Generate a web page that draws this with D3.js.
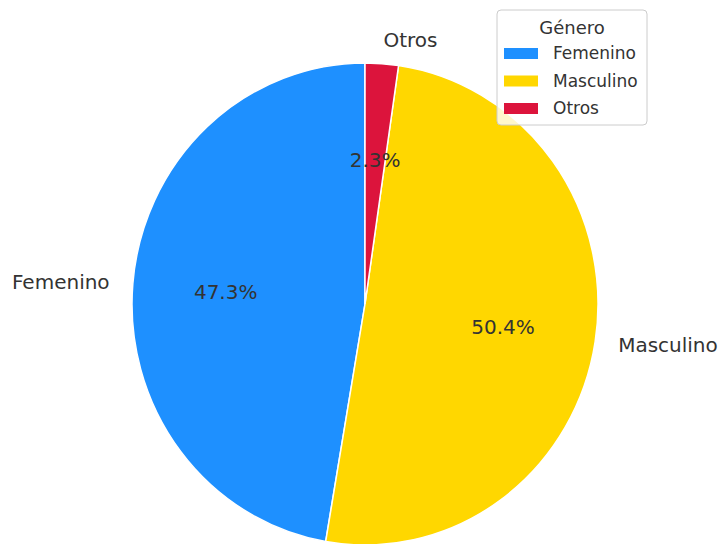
<!DOCTYPE html>
<html>
<head>
<meta charset="utf-8">
<script src="https://cdn.jsdelivr.net/npm/d3@7"></script>
<style>
  html, body { margin: 0; padding: 0; background: #fff; }
  svg { display: block; font-family: "DejaVu Sans", sans-serif; }
</style>
</head>
<body>
<svg id="chart" width="722" height="544"></svg>
<script>
// Gender distribution
const categories = ["Femenino", "Masculino", "Otros"];
const values = [47.3, 50.4, 2.3];
const colors = ["#1E90FF", "#FFD700", "#DC143C"];
const legendTitle = "Género";

const W = 722, H = 544;
const cx = 365, cy = 304;
const rx = 233, ry = 241;
const textColor = "#333333";

const svg = d3.select("#chart");

// Wedges run counter-clockwise starting from 12 o'clock
const total = d3.sum(values);
const angle = d3.scaleLinear().domain([0, total]).range([0, -2 * Math.PI]);
let acc = 0;
const slices = values.map((v, i) => {
  const a0 = angle(acc);
  acc += v;
  const a1 = angle(acc);
  return { i, v, startAngle: a1, endAngle: a0, mid: (a0 + a1) / 2 };
});

const arc = d3.arc().innerRadius(0).outerRadius(rx);

const pie = svg.append("g")
  .attr("transform", `translate(${cx},${cy}) scale(1,${ry / rx})`);

pie.selectAll("path")
  .data(slices)
  .join("path")
  .attr("d", d => arc(d))
  .attr("fill", d => colors[d.i])
  .attr("stroke", "#ffffff")
  .attr("stroke-width", 1.5)
  .attr("vector-effect", "non-scaling-stroke");

// position on the ellipse at a fraction of the radius
function pos(a, f) {
  return [cx + f * rx * Math.sin(a), cy - f * ry * Math.cos(a)];
}

const fmt = d3.format(".1f");

// percentage labels
svg.selectAll("text.pct")
  .data(slices)
  .join("text")
  .attr("class", "pct")
  .attr("x", d => pos(d.mid, 0.6)[0])
  .attr("y", d => pos(d.mid, 0.6)[1])
  .attr("text-anchor", "middle")
  .attr("dominant-baseline", "central")
  .attr("font-size", 20)
  .attr("fill", textColor)
  .text(d => fmt(d.v) + "%");

// category labels outside the pie
svg.selectAll("text.cat")
  .data(slices)
  .join("text")
  .attr("class", "cat")
  .attr("x", d => pos(d.mid, 1.1)[0])
  .attr("y", d => pos(d.mid, 1.1)[1])
  .attr("text-anchor", d => Math.sin(d.mid) > 0 ? "start" : "end")
  .attr("dominant-baseline", "central")
  .attr("font-size", 20)
  .attr("fill", textColor)
  .text(d => categories[d.i]);

// legend
const lg = svg.append("g").attr("transform", "translate(497,10)");
lg.append("rect")
  .attr("width", 150).attr("height", 115)
  .attr("rx", 4).attr("ry", 4)
  .attr("fill", "#ffffff").attr("fill-opacity", 0.8)
  .attr("stroke", "#cccccc").attr("stroke-width", 1);
lg.append("text")
  .attr("x", 75).attr("y", 17)
  .attr("text-anchor", "middle")
  .attr("dominant-baseline", "central")
  .attr("font-size", 18)
  .attr("fill", textColor)
  .text(legendTitle);
const rows = lg.selectAll("g.row")
  .data(categories)
  .join("g")
  .attr("class", "row")
  .attr("transform", (d, i) => `translate(0,${43 + i * 27.5})`);
rows.append("rect")
  .attr("x", 7).attr("y", -5)
  .attr("width", 34).attr("height", 11)
  .attr("fill", (d, i) => colors[i]);
rows.append("text")
  .attr("x", 56).attr("y", 0)
  .attr("dominant-baseline", "central")
  .attr("font-size", 17)
  .attr("fill", textColor)
  .text(d => d);
</script>
</body>
</html>
